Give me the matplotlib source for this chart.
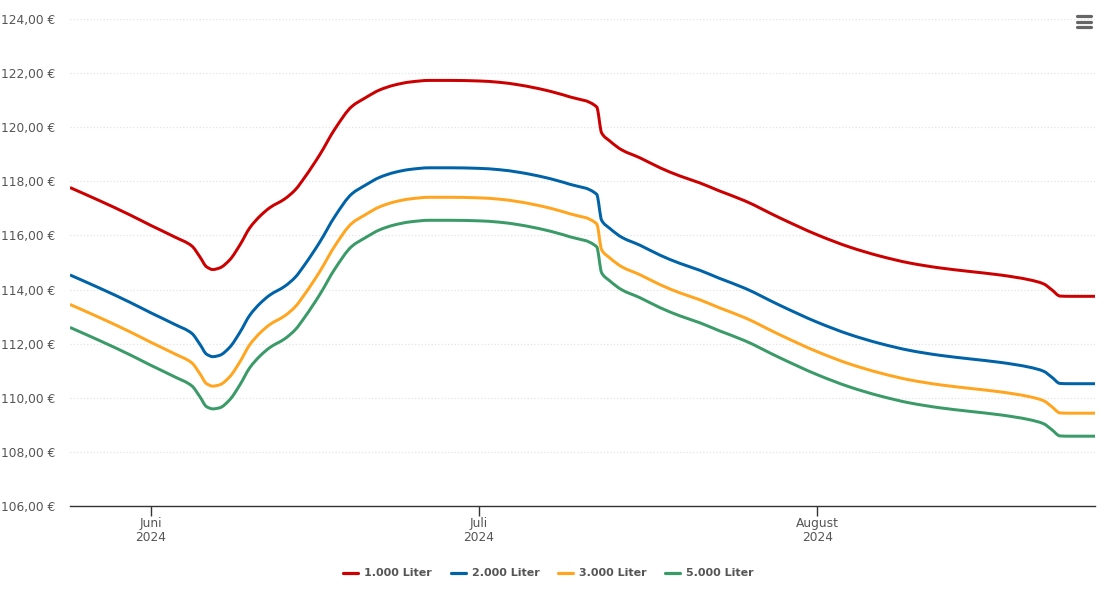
import matplotlib
matplotlib.use('Agg')
import matplotlib.pyplot as plt
from matplotlib.lines import Line2D
from matplotlib.patches import PathPatch
from matplotlib.path import Path

# Tage seit dem 1. Juni 2024
tage = [-7.4, -4.67, -1.92, 0, 2.2, 3.75, 4.5, 5.1, 5.67, 6.3, 7.2, 8.15, 9.05, 10, 10.9, 12.25, 13.2, 14.1,
        15.45, 16.85, 18.4, 19.6, 20.95, 22.3, 23.7, 25.5, 27.35, 30, 31.9, 33.75, 36, 38.35, 40.8, 41.25,
        42, 43.1, 44.75, 46.6, 48.4, 50.25, 52, 54.35, 57.55, 61, 63.95, 66.7, 69.45, 72.2, 74.9, 77.7,
        80.4, 81.7, 82.45, 83.2, 84.1, 86.4]

liter_1000 = [117.77, 117.28, 116.76, 116.37, 115.94, 115.61, 115.2, 114.84, 114.74, 114.8, 115.09, 115.65, 116.28,
              116.72, 117.03, 117.35, 117.68, 118.16, 118.98, 119.94, 120.77, 121.08, 121.38, 121.56, 121.67,
              121.73, 121.73, 121.71, 121.66, 121.56, 121.38, 121.12, 120.75, 119.79, 119.49, 119.16, 118.87,
              118.5, 118.2, 117.94, 117.65, 117.28, 116.65, 116.02, 115.57, 115.24, 114.98, 114.8, 114.67,
              114.54, 114.36, 114.21, 113.99, 113.76, 113.75, 113.75]
liter_2000 = [114.54, 114.05, 113.53, 113.14, 112.71, 112.38, 111.97, 111.61, 111.52, 111.57, 111.86, 112.42, 113.05,
              113.49, 113.80, 114.12, 114.45, 114.93, 115.75, 116.71, 117.54, 117.85, 118.15, 118.33, 118.44,
              118.50, 118.50, 118.48, 118.43, 118.33, 118.15, 117.89, 117.52, 116.56, 116.26, 115.93, 115.64,
              115.27, 114.97, 114.71, 114.42, 114.05, 113.42, 112.79, 112.34, 112.01, 111.75, 111.57, 111.44,
              111.31, 111.13, 110.98, 110.76, 110.53, 110.52, 110.52]
liter_3000 = [113.45, 112.96, 112.44, 112.05, 111.62, 111.29, 110.88, 110.52, 110.43, 110.48, 110.77, 111.33, 111.96,
              112.40, 112.71, 113.03, 113.36, 113.84, 114.66, 115.62, 116.45, 116.76, 117.06, 117.24, 117.35,
              117.41, 117.41, 117.39, 117.34, 117.24, 117.06, 116.80, 116.43, 115.47, 115.17, 114.84, 114.55,
              114.18, 113.88, 113.62, 113.33, 112.96, 112.33, 111.70, 111.25, 110.92, 110.66, 110.48, 110.35,
              110.22, 110.04, 109.89, 109.67, 109.44, 109.43, 109.43]
liter_5000 = [112.60, 112.11, 111.59, 111.20, 110.77, 110.44, 110.03, 109.67, 109.59, 109.63, 109.92, 110.48, 111.11,
              111.55, 111.86, 112.18, 112.51, 112.99, 113.81, 114.77, 115.60, 115.91, 116.21, 116.39, 116.50,
              116.56, 116.56, 116.54, 116.49, 116.39, 116.21, 115.95, 115.58, 114.62, 114.32, 113.99, 113.70,
              113.33, 113.03, 112.77, 112.48, 112.11, 111.48, 110.85, 110.40, 110.07, 109.81, 109.63, 109.50,
              109.37, 109.19, 109.04, 108.82, 108.59, 108.58, 108.58]

namen = ['1.000 Liter', '2.000 Liter', '3.000 Liter', '5.000 Liter']
farben = ['#cc0000', '#0063a8', '#ffa51f', '#3a9a68']
y_ticks = [106, 108, 110, 112, 114, 116, 118, 120, 122, 124]
x_ticks = [0, 30, 61]
x_labels = ['Juni\n2024', 'Juli\n2024', 'August\n2024']


# Bezier-Pfad durch die Punkte, Steigung als harmonisches Mittel (wackelt nicht an den Knicken)
def spline_pfad(xs, ys):
    n = len(xs)
    dx = [xs[i + 1] - xs[i] for i in range(n - 1)]
    m = [(ys[i + 1] - ys[i]) / dx[i] for i in range(n - 1)]
    st = [m[0]] + [0.0] * (n - 2) + [m[-1]]
    for i in range(1, n - 1):
        if m[i - 1] * m[i] > 0:
            w1 = 2 * dx[i] + dx[i - 1]
            w2 = dx[i] + 2 * dx[i - 1]
            st[i] = (w1 + w2) / (w1 / m[i - 1] + w2 / m[i])
    punkte = [(xs[0], ys[0])]
    codes = [Path.MOVETO]
    for i in range(n - 1):
        punkte += [(xs[i] + dx[i] / 3, ys[i] + st[i] * dx[i] / 3),
                   (xs[i + 1] - dx[i] / 3, ys[i + 1] - st[i + 1] * dx[i] / 3),
                   (xs[i + 1], ys[i + 1])]
        codes += [Path.CURVE4] * 3
    return Path(punkte, codes)


B, H = 1105, 603
fig = plt.figure(figsize=(B / 100, H / 100), dpi=100)
ax = fig.add_axes([70 / B, (H - 506) / H, 1025 / B, 487 / H])

griffe = []
for werte, name, farbe in zip([liter_1000, liter_2000, liter_3000, liter_5000], namen, farben):
    ax.add_patch(PathPatch(spline_pfad(tage, werte), fill=False, edgecolor=farbe, lw=2.15, joinstyle='round',
                           capstyle='butt', zorder=3))
    griffe.append(Line2D([], [], color=farbe, lw=2.3, label=name, solid_capstyle='round'))

ax.set_xlim(-7.4, 86.4)
ax.set_ylim(106, 124)
ax.set_yticks(y_ticks)
ax.set_yticklabels([f'{w},00 €' for w in y_ticks], fontsize=8.8, color='#555555')
ax.set_xticks(x_ticks)
ax.set_xticklabels(x_labels, fontsize=8.8, color='#555555', linespacing=1.08)
ax.tick_params(axis='y', length=0, pad=10.8)
ax.tick_params(axis='x', length=7.2, width=1, color='#333333', pad=1)
ax.grid(axis='y', color='#e4e4e4', linestyle=':', lw=0.9)
ax.set_axisbelow(True)
for seite in ['top', 'left', 'right']:
    ax.spines[seite].set_visible(False)
ax.spines['bottom'].set_color('#333333')
ax.spines['bottom'].set_linewidth(1)

legende = ax.legend(handles=griffe, loc='center', bbox_to_anchor=(0.4668, -67.5 / 487), ncol=4, frameon=False,
                    handlelength=1.35, handletextpad=0.55, columnspacing=1.65,
                    prop={'size': 8, 'weight': 'bold'})
for text in legende.get_texts():
    text.set_color('#555555')

# Menü-Symbol oben rechts
for y in [16.3, 21.7, 26.7]:
    fig.add_artist(Line2D([1077 / B, 1091 / B], [1 - y / H, 1 - y / H], color='#666666', lw=2.3,
                          solid_capstyle='round'))

fig.savefig('out.png', dpi=100)
